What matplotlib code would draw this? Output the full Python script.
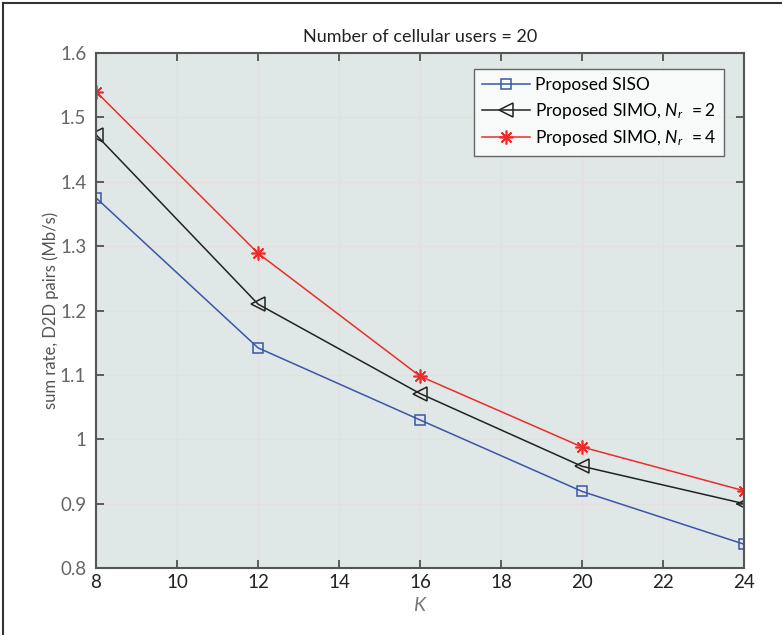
import matplotlib
matplotlib.use('Agg')
import matplotlib.pyplot as plt
from matplotlib.lines import Line2D

# Data
K = [8, 12, 16, 20, 24]
siso = [1.375, 1.142, 1.030, 0.919, 0.837]
simo_nr2 = [1.473, 1.210, 1.071, 0.958, 0.900]
simo_nr4 = [1.540, 1.289, 1.098, 0.988, 0.920]

labels = ['Proposed SISO', 'Proposed SIMO, $N_r$ $\\,= 2$', 'Proposed SIMO, $N_r$ $\\,= 4$']
xticks = [8, 10, 12, 14, 16, 18, 20, 22, 24]
yticks = [0.8, 0.9, 1.0, 1.1, 1.2, 1.3, 1.4, 1.5, 1.6]
ytick_labels = ['0.8', '0.9', '1', '1.1', '1.2', '1.3', '1.4', '1.5', '1.6']

plt.rcParams['font.family'] = ['Lato', 'DejaVu Sans']
plt.rcParams['mathtext.fontset'] = 'custom'
plt.rcParams['mathtext.it'] = 'Lato:italic'
plt.rcParams['mathtext.rm'] = 'Lato'

fig = plt.figure(figsize=(7.82, 6.35), dpi=100)
ax = fig.add_axes([0.1228, 0.1055, 0.8286, 0.811])
ax.set_facecolor('#dfe8e6')

ax.plot(K, siso, color='#3b55a8', lw=1.1, marker='s', ms=7, mfc='none', mew=1.1, label=labels[0])
ax.plot(K, simo_nr2, color='#222222', lw=1.1, marker='<', ms=10, mfc='none', mew=1.1, label=labels[1])
ax.plot(K, simo_nr4, color='#ee2b2b', lw=1.1, marker=(8, 2, 0), ms=10, mew=1.2, label=labels[2])

ax.set_xlim(8, 24)
ax.set_ylim(0.8, 1.6)
ax.set_xticks(xticks)
ax.set_yticks(yticks)
ax.set_yticklabels(ytick_labels)
ax.grid(True, color='#e6dede', lw=0.9)
ax.set_axisbelow(True)
ax.tick_params(direction='in', length=6, width=1.2, top=True, right=True,
               labelsize=13.5, color='#444444')
ax.tick_params(axis='y', labelcolor='#666666', pad=7)
ax.tick_params(axis='x', labelcolor='#222222', pad=4)
for s in ax.spines.values():
    s.set_color('#555555')
    s.set_linewidth(1.5)

ax.set_xlabel('$K$', fontsize=14, color='#777777', labelpad=4)
ax.set_ylabel('sum rate, D2D pairs (Mb/s)', fontsize=12, color='#555555', labelpad=1)
ax.set_title('Number of cellular users = 20', fontsize=13, color='#222222', pad=8)

leg = ax.legend(loc='upper right', bbox_to_anchor=(0.969, 0.969), fontsize=12.5,
                frameon=True, fancybox=False, handlelength=2.8, handletextpad=0.3,
                borderpad=0.45, labelspacing=0.45, borderaxespad=0)
leg.get_frame().set_edgecolor('#444444')
leg.get_frame().set_facecolor('white')
leg.get_frame().set_linewidth(1.0)

# partial frame around the figure (top and left edges)
fig.add_artist(Line2D([0.004, 1.0], [0.995, 0.995], color='#333333', lw=1.5, transform=fig.transFigure))
fig.add_artist(Line2D([0.004, 0.004], [0.0, 0.995], color='#333333', lw=1.5, transform=fig.transFigure))

fig.savefig('out.png', dpi=100)
